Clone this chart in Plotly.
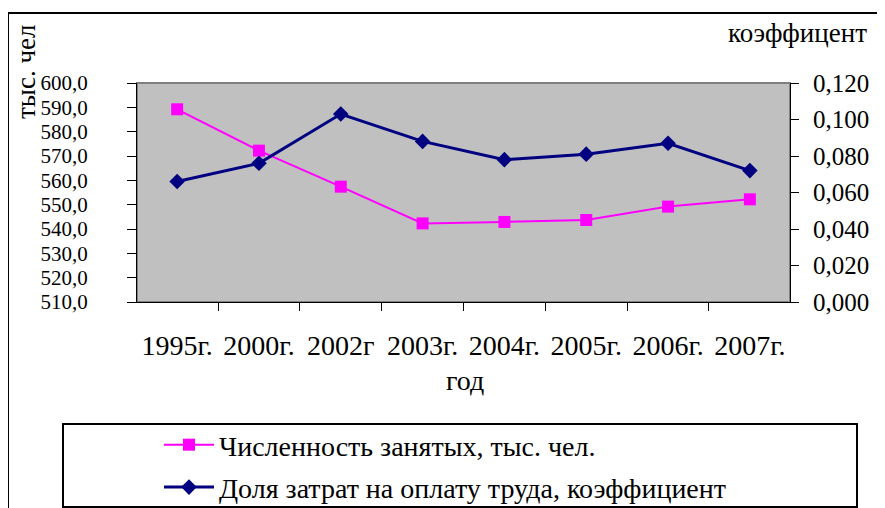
import plotly.graph_objects as go

years = ["1995г.", "2000г.", "2002г", "2003г.", "2004г.", "2005г.", "2006г.", "2007г."]
employed = [589.2, 572.2, 557.4, 542.3, 542.9, 543.7, 549.2, 552.2]
labor_share = [0.066, 0.076, 0.103, 0.088, 0.078, 0.081, 0.087, 0.072]

OFF = 8  # page body margin
W, H = 885 - OFF, 508 - OFF
# plot area in screen pixels
SL, SR, ST, SB = 137, 790, 83, 302
L, R, T, B = SL - OFF, SR - OFF, ST - OFF, SB - OFF
pw, ph = R - L, B - T

def px(x):
    return (x - SL) / pw

def py(y):
    return (SB - y) / ph

FONT = "Liberation Serif"

fig = go.Figure()
fig.add_trace(go.Scatter(
    x=years, y=employed, name="Численность занятых, тыс. чел.",
    mode="lines+markers", line=dict(color="#FF00FF", width=2),
    marker=dict(symbol="square", size=12, color="#FF00FF"),
    legendgroup="a", yaxis="y"))
fig.add_trace(go.Scatter(
    x=years, y=labor_share, name="Доля затрат на оплату труда, коэффициент",
    mode="lines+markers", line=dict(color="#000080", width=3),
    marker=dict(symbol="diamond", size=12, color="#000080"),
    legendgroup="b", yaxis="y2"))

fig.update_layout(
    width=W, height=H,
    margin=dict(l=L, r=W - R, t=T, b=H - B, autoexpand=False),
    paper_bgcolor="white", plot_bgcolor="#C0C0C0",
    separators=", ",
    font=dict(family=FONT, size=24, color="black"),
    showlegend=True,
    legend=dict(x=px(159), y=py(420), xanchor="left", yanchor="top",
                bgcolor="rgba(0,0,0,0)", borderwidth=0,
                font=dict(family=FONT, size=28, color="black"),
                itemwidth=50, traceorder="grouped", tracegroupgap=3),
    xaxis=dict(type="category", showgrid=False, showline=True, linecolor="black",
               linewidth=1, ticks="outside", ticklen=8, tickcolor="black",
               tickson="boundaries", ticklabelstandoff=18,
               tickfont=dict(family=FONT, size=28), zeroline=False),
    yaxis=dict(range=[510, 600], dtick=10, tickformat=".1f", showgrid=False,
               showline=True, linecolor="black", linewidth=1, ticks="outside",
               ticklen=9, tickcolor="black", ticklabelstandoff=35,
               tickfont=dict(family=FONT, size=21), zeroline=False),
    yaxis2=dict(range=[0, 0.12], dtick=0.02, tickformat=".3f", overlaying="y",
                side="right", showgrid=False, showline=True, linecolor="black",
                linewidth=1, ticks="outside", ticklen=8, tickcolor="black",
                ticklabelstandoff=9, tickfont=dict(family=FONT, size=25),
                zeroline=False),
)

shapes = [
    dict(type="rect", xref="paper", yref="paper", x0=0, x1=1, y0=0, y1=1,
         line=dict(color="#808080", width=2), layer="below"),
    dict(type="rect", xref="paper", yref="paper", x0=px(8), x1=px(884),
         y0=py(13), y1=py(530), line=dict(color="black", width=2)),
    dict(type="rect", xref="paper", yref="paper", x0=px(63), x1=px(857),
         y0=py(424), y1=py(507), line=dict(color="black", width=2)),
]
fig.update_layout(shapes=shapes)

fig.add_annotation(text="тыс. чел", xref="paper", yref="paper", x=px(26), y=py(72),
                   xanchor="center", yanchor="middle",
                   textangle=-90, showarrow=False, font=dict(family=FONT, size=27))
fig.add_annotation(text="коэффицент", xref="paper", yref="paper", x=px(797), y=py(33),
                   xanchor="center", yanchor="middle",
                   showarrow=False, font=dict(family=FONT, size=27))
fig.add_annotation(text="год", xref="paper", yref="paper", x=px(465), y=py(380),
                   xanchor="center", yanchor="middle",
                   showarrow=False, font=dict(family=FONT, size=28))

fig.write_html("out.html")
